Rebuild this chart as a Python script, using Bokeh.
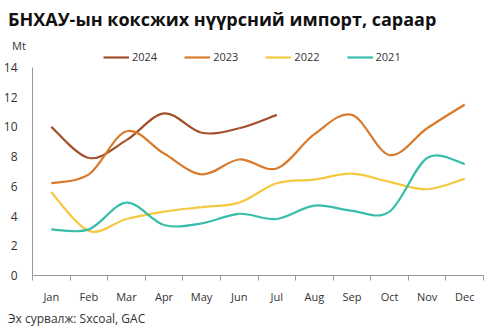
from bokeh.plotting import figure
from bokeh.models import Range1d, FixedTicker, Legend, LegendItem, ColumnDataSource, Div
from bokeh.layouts import column
from bokeh.embed import file_html
from bokeh.resources import INLINE

months = ["Jan", "Feb", "Mar", "Apr", "May", "Jun", "Jul", "Aug", "Sep", "Oct", "Nov", "Dec"]
y2024 = [10.0, 7.9, 9.1, 10.9, 9.6, 9.9, 10.8]
y2023 = [6.2, 6.8, 9.7, 8.2, 6.8, 7.8, 7.2, 9.5, 10.8, 8.1, 9.9, 11.5]
y2022 = [5.6, 3.0, 3.8, 4.3, 4.6, 4.9, 6.2, 6.45, 6.85, 6.3, 5.8, 6.5]
y2021 = [3.1, 3.1, 4.9, 3.4, 3.5, 4.15, 3.8, 4.7, 4.35, 4.3, 7.9, 7.5]
series = [("2024", y2024, "#A3502A"), ("2023", y2023, "#D9792B"),
          ("2022", y2022, "#F4C940"), ("2021", y2021, "#37BDAA")]
yticks = [0, 2, 4, 6, 8, 10, 12, 14]
title_text = "БНХАУ-ын коксжих нүүрсний импорт, сараар"
unit_text = "Mt"
source_text = "Эх сурвалж: Sxcoal, GAC"

FONT = "Open Sans"

head = Div(width=497, height=50, margin=(0, 0, 0, 0),
           text=(f"<div style=\"position:relative;width:497px;height:50px;font-family:'{FONT}';\">"
                 f"<div style=\"position:absolute;left:8px;top:7px;font-size:18px;font-weight:bold;"
                 f"color:#111;white-space:nowrap;line-height:24px;\">{title_text}</div>"
                 f"<div style=\"position:absolute;left:12px;top:38px;font-size:11px;color:#333;"
                 f"line-height:15px;\">{unit_text}</div></div>"))

p = figure(width=497, height=256, output_backend="svg", toolbar_location=None,
           x_range=Range1d(0.5, 12.5), y_range=Range1d(0, 15.13),
           min_border_left=32, min_border_right=14, min_border_top=0, min_border_bottom=28,
           margin=(0, 0, 0, 0))
p.outline_line_color = None
p.grid.grid_line_color = None
p.background_fill_color = "white"
p.border_fill_color = "white"

xs = list(range(1, 13))
p.xaxis.ticker = FixedTicker(ticks=xs, minor_ticks=[x + 0.5 for x in range(0, 13)])
p.xaxis.major_label_overrides = {i + 1: m for i, m in enumerate(months)}
p.xaxis.major_tick_line_color = None
p.xaxis.minor_tick_line_color = "#999999"
p.xaxis.minor_tick_in = 0
p.xaxis.minor_tick_out = 5
p.xaxis.axis_line_color = "#999999"
p.xaxis.major_label_standoff = 7
p.yaxis.ticker = FixedTicker(ticks=yticks)
p.yaxis.bounds = (0, 14)
p.yaxis.major_tick_line_color = None
p.yaxis.minor_tick_line_color = None
p.yaxis.axis_line_color = "#999999"
p.yaxis.major_label_standoff = 9
for ax in (p.xaxis, p.yaxis):
    ax.major_label_text_font = FONT
    ax.major_label_text_color = "#333333"
p.xaxis.major_label_text_font_size = "11px"
p.yaxis.major_label_text_font_size = "12px"

items = []
for name, ys, color in series:
    n = len(ys)
    x = xs[:n]
    x0, y0, x1, y1, cx0, cy0, cx1, cy1 = [], [], [], [], [], [], [], []
    for i in range(n - 1):
        pxm, pym = (x[i - 1], ys[i - 1]) if i > 0 else (x[i], ys[i])
        pxp, pyp = (x[i + 2], ys[i + 2]) if i + 2 < n else (x[i + 1], ys[i + 1])
        x0.append(x[i]); y0.append(ys[i]); x1.append(x[i + 1]); y1.append(ys[i + 1])
        cx0.append(x[i] + (x[i + 1] - pxm) / 6); cy0.append(ys[i] + (ys[i + 1] - pym) / 6)
        cx1.append(x[i + 1] - (pxp - x[i]) / 6); cy1.append(ys[i + 1] - (pyp - ys[i]) / 6)
    src = ColumnDataSource(dict(x0=x0, y0=y0, x1=x1, y1=y1, cx0=cx0, cy0=cy0, cx1=cx1, cy1=cy1))
    r = p.bezier("x0", "y0", "x1", "y1", "cx0", "cy0", "cx1", "cy1", source=src,
                 line_color=color, line_width=2.2)
    items.append(LegendItem(label=name, renderers=[r]))

legend = Legend(items=items, orientation="horizontal", location=(71, 211),
                label_text_font=FONT, label_text_font_size="11px", label_text_color="#333333",
                glyph_width=26, glyph_height=12, label_height=12, spacing=27, padding=0, margin=0,
                background_fill_alpha=0, border_line_color=None, label_standoff=3)
p.add_layout(legend, "center")

foot = Div(width=497, height=25, margin=(0, 0, 0, 0),
           text=(f"<div style=\"font-family:'{FONT}';font-size:12px;color:#333;"
                 f"padding-left:8px;padding-top:5px;line-height:16px;white-space:nowrap;\">{source_text}</div>"))

layout = column(head, p, foot, spacing=0, margin=(0, 0, 0, 0))
open("out.html", "w").write(file_html(layout, INLINE))
